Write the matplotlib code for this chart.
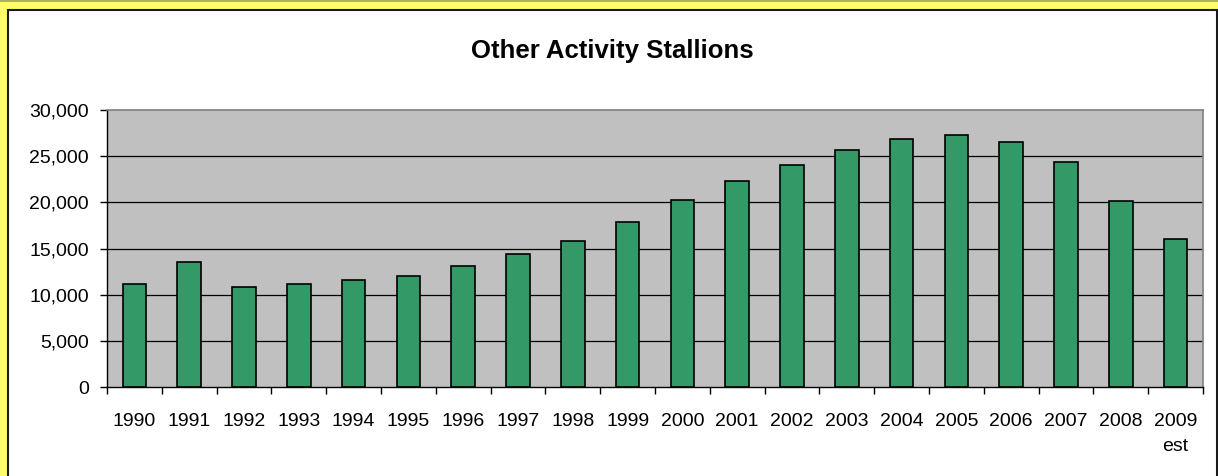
import matplotlib.pyplot as plt
from matplotlib.patches import Rectangle
from matplotlib.ticker import FuncFormatter, FixedLocator
import numpy as np

plt.rcParams['font.family'] = ['Liberation Sans', 'DejaVu Sans']

# data
years = ['1990', '1991', '1992', '1993', '1994', '1995', '1996', '1997', '1998', '1999',
         '2000', '2001', '2002', '2003', '2004', '2005', '2006', '2007', '2008', '2009\nest']
stallions = [11200, 13550, 10850, 11200, 11550, 12050, 13100, 14400, 15800, 17850,
             20250, 22300, 24000, 25700, 26900, 27250, 26550, 24350, 20100, 16000]
y_ticks = [0, 5000, 10000, 15000, 20000, 25000, 30000]

W, H = 1218, 476
fig = plt.figure(figsize=(W / 100, H / 100), dpi=100)
fig.patch.set_facecolor('#FFFF66')

# white chart area with dark border (cropped at right/bottom in the reference)
fig.patches.append(Rectangle((8 / W, -0.01), (W - 1.5 - 8) / W, 1 - 9.5 / H + 0.01,
                             transform=fig.transFigure, facecolor='white',
                             edgecolor='#1a1a1a', linewidth=1.5, zorder=-2))
fig.patches.append(Rectangle((0, 1 - 1.5 / H), 1, 1.5 / H, transform=fig.transFigure,
                             facecolor='#b0b060', edgecolor='none', zorder=-2))

ax = fig.add_axes([107 / W, 1 - 387 / H, (1203 - 107) / W, (387 - 110) / H])
ax.set_zorder(2)
ax.set_facecolor('#C0C0C0')

x = np.arange(len(years))
ax.bar(x, stallions, width=0.43, color='#339966', edgecolor='black', linewidth=1.2, zorder=3)

ax.set_xlim(-0.5, len(years) - 0.5)
ax.set_ylim(0, 30000)

ax.set_yticks(y_ticks)
ax.yaxis.set_major_formatter(FuncFormatter(lambda v, p: f'{int(v):,}'))
for v in y_ticks[1:-1]:
    ax.axhline(v, color='black', linewidth=0.9, zorder=1)

ax.set_xticks(x)
ax.set_xticklabels(years)
for lbl in ax.get_xticklabels():
    lbl.set_linespacing(1.55)
ax.xaxis.set_minor_locator(FixedLocator(np.arange(len(years) + 1) - 0.5))
ax.tick_params(axis='x', which='major', length=0, pad=19, labelsize=14)
ax.tick_params(axis='x', which='minor', length=5, width=1, color='black')
ax.tick_params(axis='y', length=5, width=1, pad=8, labelsize=14, color='black')

for side in ['top', 'right']:
    ax.spines[side].set_color('#808080')
    ax.spines[side].set_linewidth(1.2)
for side in ['left', 'bottom']:
    ax.spines[side].set_color('black')
    ax.spines[side].set_linewidth(1.0)

fig.text(612 / W, 1 - 51 / H, 'Other Activity Stallions', ha='center', va='center',
         fontsize=18.5, fontweight='bold')

fig.savefig('out.png', dpi=100, facecolor=fig.get_facecolor())
